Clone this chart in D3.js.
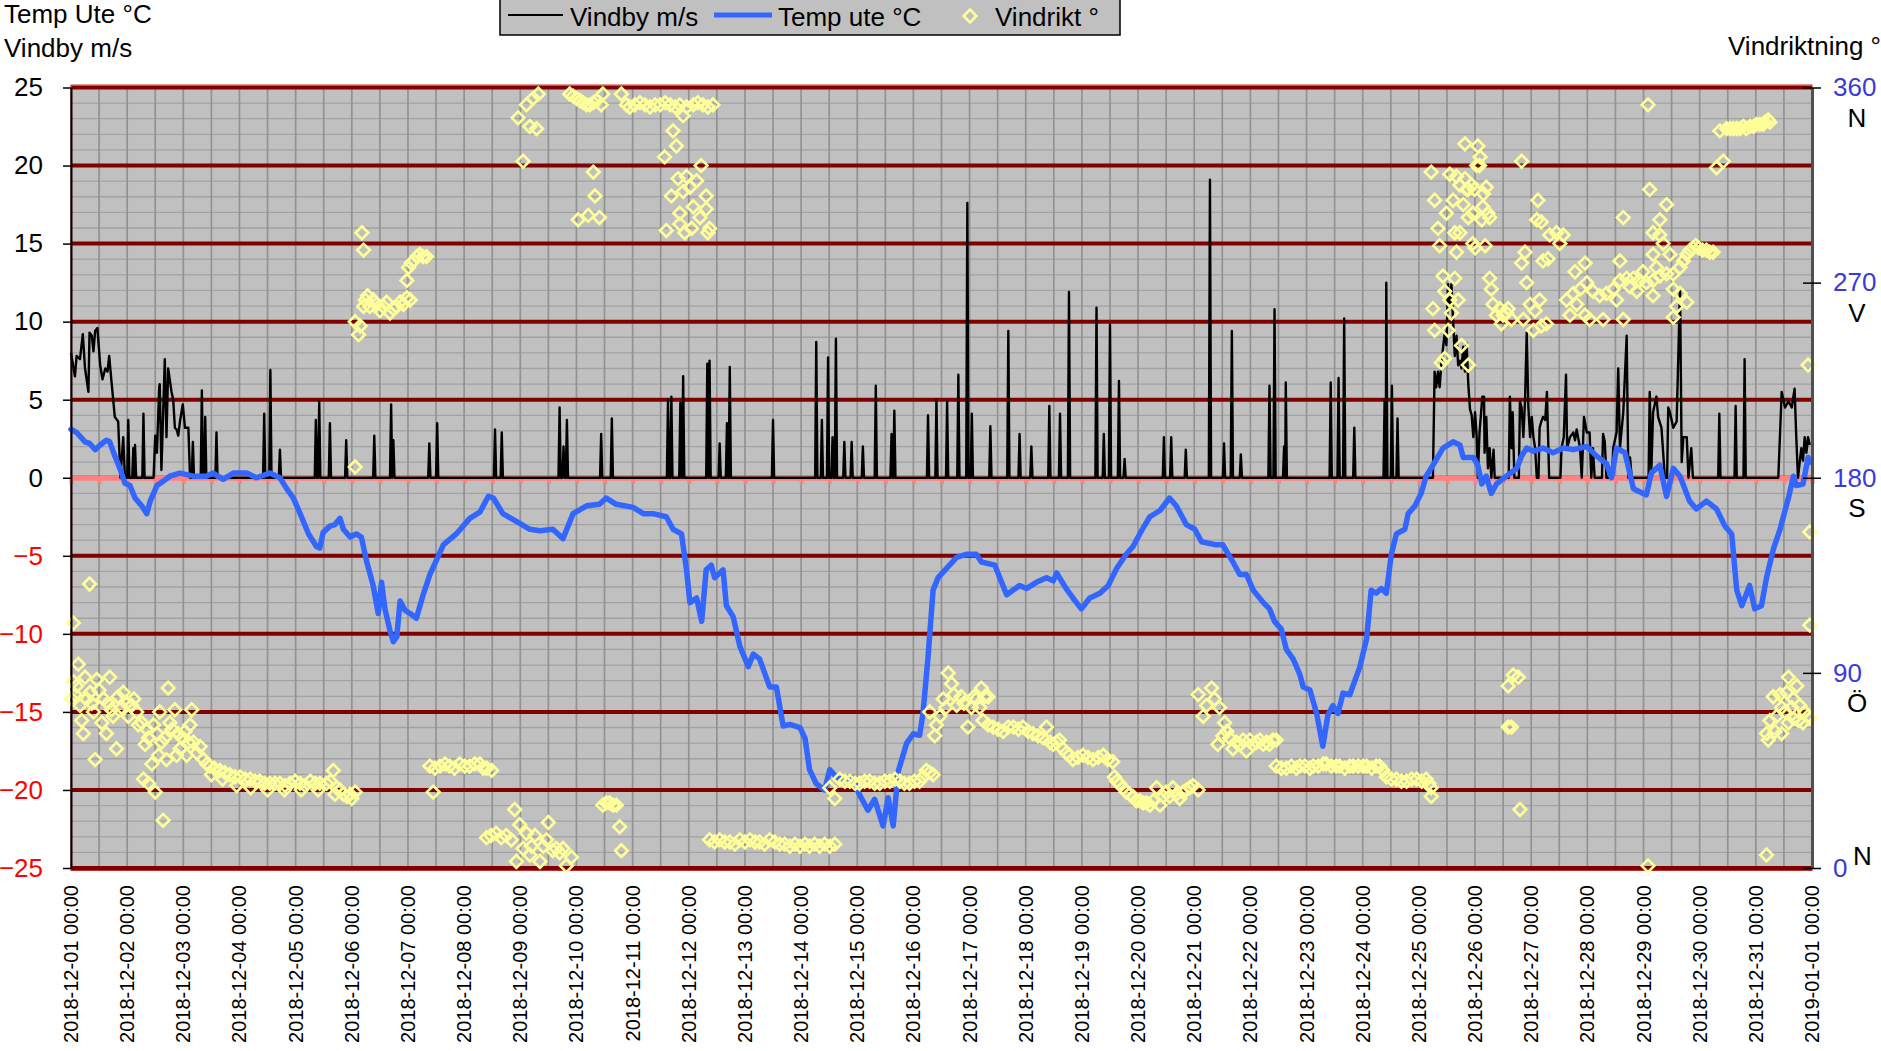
<!DOCTYPE html>
<html>
<head>
<meta charset="utf-8">
<script src="https://cdn.jsdelivr.net/npm/d3@7"></script>
<style>
  body { margin: 0; background: #fff; overflow: hidden; }
  svg text { font-family: "Liberation Sans", Arial, sans-serif; }
</style>
</head>
<body>
<script>
// values, x in days after 2018-12-01 00:00
const tempData = [
  [0.00,3.1],[0.10,2.9],[0.25,2.3],[0.33,2.2],[0.43,1.8],[0.52,2.1],[0.63,2.4],[0.69,2.3],[0.78,1.4],[0.87,0.6],
  [0.96,-0.35],[1.05,-0.5],[1.14,-1.3],[1.26,-1.8],[1.35,-2.3],[1.41,-1.5],[1.53,-0.5],[1.65,-0.2],[1.76,0.1],[1.94,0.3],
  [2.18,0.1],[2.41,0.1],[2.53,0.3],[2.71,-0.1],[2.89,0.3],[3.13,0.3],[3.30,0.0],[3.54,0.3],[3.72,0.0],[3.84,-0.7],
  [3.96,-1.3],[4.08,-2.3],[4.23,-3.6],[4.37,-4.4],[4.43,-4.5],[4.49,-3.5],[4.61,-3.1],[4.70,-3.0],[4.79,-2.6],[4.85,-3.3],
  [4.97,-3.8],[5.08,-3.6],[5.17,-3.8],[5.26,-5.3],[5.38,-6.9],[5.47,-8.7],[5.53,-6.7],[5.59,-8.4],[5.68,-9.8],[5.74,-10.5],
  [5.80,-10.2],[5.86,-7.9],[5.95,-8.5],[6.04,-8.7],[6.15,-9.0],[6.27,-7.5],[6.39,-6.2],[6.63,-4.3],[6.86,-3.6],[7.10,-2.6],
  [7.28,-2.2],[7.43,-1.2],[7.52,-1.3],[7.69,-2.3],[7.93,-2.8],[8.17,-3.3],[8.35,-3.4],[8.58,-3.3],[8.76,-3.9],[8.94,-2.3],
  [9.18,-1.8],[9.41,-1.7],[9.53,-1.3],[9.71,-1.7],[10.01,-1.9],[10.19,-2.3],[10.36,-2.3],[10.60,-2.5],[10.72,-3.3],[10.87,-3.6],
  [10.96,-5.9],[11.02,-8.0],[11.14,-7.7],[11.23,-9.2],[11.31,-5.9],[11.40,-5.6],[11.46,-6.4],[11.61,-5.9],[11.67,-8.2],[11.79,-8.9],
  [11.91,-10.8],[12.06,-12.1],[12.15,-11.3],[12.26,-11.6],[12.44,-13.4],[12.56,-13.4],[12.68,-15.9],[12.80,-15.8],[12.98,-16.0],[13.07,-16.7],
  [13.15,-18.7],[13.27,-19.6],[13.42,-20.0],[13.51,-18.7],[13.66,-19.3],[13.90,-19.2],[14.04,-20.3],[14.19,-21.3],[14.31,-20.6],[14.46,-22.3],
  [14.55,-20.5],[14.64,-22.3],[14.73,-18.8],[14.88,-17.0],[15.00,-16.4],[15.11,-16.5],[15.17,-15.1],[15.26,-11.5],[15.35,-7.2],[15.44,-6.4],
  [15.59,-5.8],[15.77,-5.1],[15.94,-4.9],[16.12,-4.9],[16.21,-5.4],[16.45,-5.6],[16.57,-6.7],[16.66,-7.5],[16.89,-6.9],[17.01,-7.1],
  [17.19,-6.7],[17.37,-6.4],[17.49,-6.6],[17.55,-6.1],[17.72,-7.1],[17.84,-7.7],[17.99,-8.4],[18.14,-7.7],[18.32,-7.4],[18.47,-6.9],
  [18.62,-5.8],[18.79,-4.9],[18.91,-4.4],[19.06,-3.4],[19.21,-2.5],[19.39,-2.1],[19.56,-1.3],[19.68,-1.8],[19.86,-3.0],[20.01,-3.3],
  [20.13,-4.1],[20.39,-4.3],[20.51,-4.3],[20.69,-5.4],[20.81,-6.2],[20.93,-6.2],[21.05,-7.2],[21.23,-8.0],[21.34,-8.4],[21.43,-9.2],
  [21.55,-9.7],[21.64,-11.0],[21.76,-11.6],[21.88,-12.6],[21.94,-13.4],[22.06,-13.6],[22.18,-15.1],[22.29,-17.2],[22.38,-15.2],[22.47,-14.6],
  [22.56,-15.1],[22.65,-13.8],[22.77,-13.9],[22.95,-12.1],[23.07,-10.3],[23.15,-7.2],[23.24,-7.4],[23.33,-7.1],[23.42,-7.4],[23.51,-4.9],
  [23.60,-3.6],[23.75,-3.3],[23.81,-2.3],[23.93,-1.8],[24.04,-1.0],[24.13,0.1],[24.25,0.8],[24.43,1.9],[24.61,2.3],[24.73,2.1],
  [24.79,1.3],[24.97,1.3],[25.05,0.8],[25.12,-0.4],[25.20,0.1],[25.29,-1.0],[25.38,-0.4],[25.56,0.1],[25.74,0.6],[25.83,1.4],
  [25.92,1.9],[26.04,1.7],[26.21,1.9],[26.39,1.6],[26.57,1.9],[26.75,1.8],[26.99,2.0],[27.16,1.4],[27.34,0.9],[27.43,0.0],
  [27.52,1.9],[27.67,1.6],[27.82,-0.7],[28.05,-1.1],[28.14,0.3],[28.29,0.8],[28.41,-1.2],[28.53,0.6],[28.65,0.1],[28.82,-1.5],
  [28.94,-2.0],[29.12,-1.5],[29.30,-2.0],[29.45,-3.1],[29.57,-3.6],[29.66,-7.2],[29.75,-8.2],[29.89,-6.9],[29.98,-8.4],[30.10,-8.2],
  [30.19,-6.4],[30.31,-4.6],[30.43,-3.3],[30.58,-1.3],[30.67,0.1],[30.72,-0.5],[30.84,-0.4],[30.93,1.3],[30.96,1.0]
];

// single gusts: [day, m/s]; the line is at 0 between them
const gustSpikes = [
  [1.02,3.7],[1.11,1.9],[1.14,2.1],[1.29,4.1],[2.17,2.3],[2.33,5.6],[2.39,3.9],[2.59,2.9],[3.44,4.1],[3.55,6.9],
  [3.72,1.8],[4.36,3.7],[4.42,4.9],[4.61,3.5],[4.90,2.4],[5.40,2.7],[5.70,4.7],[5.74,2.4],[6.38,2.2],[6.52,3.5],
  [7.55,3.1],[7.67,2.9],[8.70,4.5],[8.77,2.0],[8.83,3.7],[9.44,2.8],[9.63,3.8],[10.63,5.0],[10.69,5.2],[10.85,4.8],
  [10.90,6.5],[11.33,7.3],[11.37,7.5],[11.55,2.2],[11.68,3.5],[11.73,7.1],[12.50,3.7],[13.27,8.7],[13.37,3.7],[13.48,7.7],
  [13.56,2.6],[13.62,8.9],[13.77,2.3],[13.90,2.3],[14.10,2.0],[14.33,5.9],[14.61,2.8],[14.66,4.3],[15.26,4.0],[15.41,5.0],
  [15.60,4.9],[15.80,6.6],[15.96,17.6],[16.04,4.1],[16.37,3.3],[16.69,9.4],[16.89,2.8],[17.10,2.0],[17.42,4.6],[17.61,4.1],
  [17.77,11.9],[18.26,10.9],[18.39,2.8],[18.50,9.8],[18.66,6.2],[18.76,1.2],[19.46,2.6],[19.59,2.6],[19.85,1.8],[20.28,19.1],
  [20.53,2.2],[20.67,9.4],[20.83,1.5],[21.34,5.9],[21.43,10.8],[21.60,2.0],[21.63,6.1],[22.43,6.1],[22.57,6.4],[22.67,10.2],
  [22.85,3.2],[23.39,5.0],[23.42,12.5],[23.52,5.9],[23.62,3.8],[29.35,4.1],[29.64,4.6],[29.80,7.6]
];

// windy stretches: [day, m/s]
const gustRuns = [
  [[0.00,8.0],[0.07,6.5],[0.10,7.8],[0.16,7.6],[0.21,9.2],[0.25,7.0],[0.31,5.5],[0.33,9.3],[0.37,9.1],[0.40,8.1],
   [0.43,9.4],[0.47,9.6],[0.52,7.2],[0.56,6.3],[0.61,7.0],[0.65,6.8],[0.68,7.8],[0.72,6.2],[0.78,3.9],[0.84,3.6],
   [0.88,0],[0.93,2.6],[0.96,0]],
  [[1.47,0],[1.50,2.7],[1.53,1.6],[1.57,5.8],[1.58,6.0],[1.61,0.5],[1.67,7.6],[1.70,2.6],[1.73,7.0],[1.79,5.5],
   [1.82,5.0],[1.85,3.2],[1.88,3.1],[1.91,2.7],[1.94,3.6],[1.99,4.7],[2.03,3.2],[2.09,3.2],[2.12,0]],
  [[24.25,0],[24.28,6.8],[24.31,5.8],[24.34,6.8],[24.37,5.8],[24.40,7.3],[24.46,9.3],[24.49,8.5],[24.52,12.4],[24.55,11.1],
   [24.58,12.4],[24.61,10.0],[24.64,7.8],[24.67,9.1],[24.70,7.2],[24.73,7.5],[24.76,7.0],[24.79,8.4],[24.82,6.8],[24.85,8.6],
   [24.88,6.0],[24.91,4.4],[24.94,4.0],[24.97,2.6],[25.00,4.2],[25.03,2.6],[25.05,0],[25.08,2.9],[25.13,5.2],[25.16,5.2],
   [25.17,1.6],[25.20,3.9],[25.23,0.6],[25.26,1.9],[25.29,0],[25.33,1.8],[25.35,0]],
  [[25.60,0],[25.62,5.2],[25.65,1.9],[25.67,4.2],[25.70,0],[25.78,0],[25.80,4.9],[25.83,4.5],[25.86,2.6],[25.89,4.9],
   [25.92,9.3],[25.95,4.5],[25.98,2.6],[26.01,3.9],[26.04,2.6],[26.07,1.9],[26.10,0],[26.13,0],[26.15,3.2],[26.18,3.6],
   [26.21,3.9],[26.25,3.7],[26.28,5.5],[26.32,0]],
  [[26.52,0],[26.54,1.9],[26.58,2.6],[26.62,6.6],[26.64,1.9],[26.69,2.6],[26.75,2.9],[26.78,2.4],[26.81,3.1],[26.87,1.9],
   [26.90,0],[26.94,3.9],[26.99,2.9],[27.04,2.9],[27.07,0],[27.10,1.9],[27.13,0]],
  [[27.26,0],[27.28,2.8],[27.31,2.3],[27.34,0],[27.44,0],[27.46,1.9],[27.52,2.9],[27.55,7.0],[27.58,1.9],[27.64,4.2],
   [27.70,9.1],[27.73,0],[27.76,1.3],[27.79,0]],
  [[28.09,0],[28.11,5.5],[28.14,0.5],[28.17,4.2],[28.23,5.2],[28.26,3.9],[28.32,3.2],[28.38,0],[28.42,0],[28.44,4.5],
   [28.47,4.2],[28.53,3.2],[28.59,3.6],[28.65,12.2],[28.68,1.0],[28.71,2.6],[28.77,2.6],[28.80,0],[28.85,1.9],[28.88,0]],
  [[30.40,0],[30.46,5.5],[30.52,4.5],[30.58,4.9],[30.64,4.5],[30.69,5.7],[30.72,2.6],[30.75,0],[30.81,1.9],[30.84,1.1],
   [30.87,2.6],[30.90,1.6],[30.93,2.6],[30.96,2.1]]
];

// wind direction: [day, degrees]
const windDir = [
  [0.01,78],[0.04,86],[0.04,113],[0.07,80],[0.10,84],[0.13,94],[0.16,75],[0.19,68],[0.22,62],[0.25,88],[0.28,78],[0.33,131],
  [0.34,81],[0.37,76],[0.40,72],[0.43,50],[0.46,87],[0.50,82],[0.55,67],[0.58,78],[0.63,62],[0.66,76],[0.69,88],[0.72,73],
  [0.75,70],[0.81,55],[0.84,79],[0.90,74],[0.93,81],[0.99,76],[1.02,70],[1.08,75],[1.12,78],[1.17,72],[1.20,66],[1.26,67],
  [1.29,41],[1.32,57],[1.35,64],[1.38,60],[1.38,39],[1.44,48],[1.47,66],[1.50,35],[1.53,62],[1.56,52],[1.58,72],[1.61,58],
  [1.64,22],[1.67,60],[1.70,50],[1.73,83],[1.76,67],[1.80,64],[1.85,73],[1.88,52],[1.91,62],[1.94,55],[1.98,60],[2.03,63],
  [2.06,52],[2.09,58],[2.12,66],[2.15,73],[2.18,58],[2.24,53],[2.30,56],
  [2.36,50],[2.42,48],[2.47,47],[2.50,43],[2.55,46],[2.65,45],[2.70,41],[2.74,44],[2.83,43],[2.92,42],[2.95,38],[3.01,42],
  [3.10,41],[3.19,41],[3.20,37],[3.28,40],[3.36,40],[3.45,39],[3.50,36],[3.54,39],[3.63,39],[3.72,39],[3.80,36],[3.81,38],
  [3.90,39],[3.99,40],[4.08,39],[4.10,36],[4.17,38],[4.26,40],[4.35,39],[4.40,36],[4.43,39],[4.55,39],[4.62,40],[4.67,45],
  [4.70,34],[4.73,37],[4.79,36],[4.85,34],[4.91,33],[4.97,34],[5.00,32],[5.06,35],
  [5.06,185],
  [5.06,252],[5.12,246],[5.15,250],[5.18,293],[5.21,285],[5.21,259],[5.24,262],[5.28,264],[5.32,259],[5.38,262],[5.44,260],
  [5.50,257],[5.56,259],[5.62,261],[5.68,256],[5.74,258],[5.80,259],[5.86,261],[5.92,260],[5.98,263],[6.04,262],[5.98,271],
  [6.01,277],[6.06,279],[6.10,280],[6.16,282],[6.21,283],[6.27,282],[6.33,282],
  [6.39,47],[6.45,35],[6.48,46],[6.57,47],[6.66,48],[6.74,47],[6.83,46],[6.92,48],[7.01,47],[7.10,47],[7.19,48],[7.28,48],
  [7.34,46],[7.40,46],[7.49,45],
  [7.40,14],[7.48,15],[7.57,16],[7.66,14],[7.75,15],[7.84,13],[7.90,27],[7.93,3],[7.99,20],[8.05,9],[8.11,16],[8.17,6],
  [8.20,10],[8.26,15],[8.35,3],[8.41,10],[8.47,13],[8.50,21],[8.58,8],[8.64,9],[8.70,7],[8.76,9],[8.82,1],[8.91,5],
  [7.96,346],[8.05,326],[8.11,352],[8.17,342],[8.23,355],[8.29,341],[8.32,357],
  [8.88,357],[8.94,356],[9.00,355],[9.06,354],[9.12,353],[9.18,352],[9.24,352],[9.30,353],[9.36,354],[9.44,352],[9.47,357],
  [9.30,321],[9.33,310],[9.03,299],[9.21,301],[9.41,300],
  [9.47,29],[9.53,30],[9.59,30],[9.65,29],[9.71,29],[9.77,19],[9.80,8],
  [9.80,357],[9.89,352],[9.95,351],[10.04,352],[10.13,353],[10.22,352],[10.31,351],[10.40,352],[10.49,352],[10.58,353],
  [10.67,352],[10.76,351],[10.84,352],[10.90,347],[10.96,351],[11.08,352],[11.16,353],[11.25,352],[11.34,351],[11.43,352],
  [10.72,340],[10.78,333],[10.57,328],
  [10.60,294],[10.69,310],[10.81,318],[10.84,302],[10.84,297],[10.90,312],[10.93,293],[10.96,319],[11.02,314],[11.05,295],
  [11.08,305],[11.14,317],[11.20,300],[11.22,324],[11.31,310],[11.31,304],[11.34,293],[11.37,295],
  [11.37,13],[11.46,12],[11.55,13],[11.64,12],[11.73,12],[11.82,11],[11.91,13],[12.00,12],[12.09,13],[12.18,12],[12.26,12],
  [12.35,11],[12.44,13],[12.53,12],[12.62,11],[12.71,11],[12.80,10],[12.89,11],[12.98,10],[13.07,11],[13.15,10],[13.24,11],
  [13.33,10],[13.42,11],[13.51,10],[13.60,11],
  [13.51,37],[13.60,32],[13.69,41],[13.78,40],[13.87,40],[13.96,39],[14.04,39],[14.13,40],[14.22,40],[14.31,39],[14.40,39],
  [14.49,40],[14.58,40],[14.67,41],[14.76,40],[14.84,39],[14.93,39],[15.02,40],[15.11,40],[15.17,42],[15.23,45],[15.29,44],
  [15.35,43],
  [15.29,72],[15.38,61],[15.41,66],[15.47,70],[15.53,78],[15.58,74],[15.62,90],[15.68,85],[15.72,80],[15.77,75],[15.85,79],
  [15.90,76],[15.97,65],[16.03,74],[16.08,79],[16.12,78],[16.18,74],[16.21,83],[16.27,79],[16.33,79],
  [16.24,68],[16.33,66],[16.42,65],[16.51,64],[16.60,63],[16.69,65],[16.78,65],[16.87,64],[16.95,65],[17.04,63],[17.13,62],
  [17.22,61],[17.31,60],[17.37,65],[17.43,58],[17.49,57],[17.55,58],[17.60,59],[17.66,55],[17.72,53],[17.78,52],[17.84,50],
  [17.93,51],[18.02,52],[18.11,51],[18.20,50],[18.29,51],[18.38,52],[18.46,50],[18.55,49],[18.58,42],[18.62,40],[18.67,39],
  [18.73,37],[18.79,35],[18.85,34],[18.91,33],[18.97,31],[19.03,31],[19.09,30],[19.15,30],
  [19.21,29],[19.27,31],[19.33,37],[19.39,29],[19.45,33],[19.50,35],[19.56,33],[19.62,37],[19.68,34],[19.74,32],[19.80,35],
  [19.86,36],[19.92,37],[19.98,38],[20.07,36],
  [20.07,80],[20.16,70],[20.22,75],[20.31,83],[20.36,78],[20.42,57],[20.45,74],[20.51,61],[20.54,67],[20.58,63],[20.63,60],
  [20.69,55],[20.75,58],[20.81,57],[20.87,59],[20.93,54],[20.99,59],[21.05,57],[21.11,58],[21.17,59],[21.23,57],[21.29,58],
  [21.34,57],[21.40,59],[21.46,59],
  [21.46,47],[21.55,46],[21.64,46],[21.73,47],[21.82,46],[21.88,47],[21.97,47],[22.06,46],[22.12,47],[22.21,47],[22.30,48],
  [22.35,48],[22.44,47],[22.53,47],[22.59,47],[22.68,46],[22.77,47],[22.83,47],[22.92,47],[23.01,47],[23.07,47],[23.16,46],
  [23.24,47],[23.30,47],[23.36,45],[23.42,42],[23.51,41],[23.60,41],[23.69,40],[23.78,40],[23.87,41],[23.96,41],[24.05,40],
  [24.13,41],[24.18,39],[24.22,37],[24.22,33],
  [24.22,321],[24.25,258],[24.28,308],[24.28,248],[24.34,295],[24.37,287],[24.40,233],[24.43,273],[24.46,266],[24.46,235],
  [24.49,302],[24.52,248],[24.55,320],[24.55,262],[24.58,256],[24.61,308],[24.64,293],[24.64,272],[24.67,319],[24.67,284],
  [24.70,262],[24.73,315],[24.73,293],[24.76,241],[24.79,306],[24.82,334],[24.82,318],[24.85,313],[24.88,313],[24.88,300],
  [24.88,232],[24.94,315],[24.96,302],[24.96,288],[24.99,313],[25.00,286],[25.03,324],[25.05,333],[25.08,324],[25.09,328],
  [25.12,299],[25.14,305],[25.15,311],[25.18,287],[25.20,314],[25.23,302],[25.26,300],[25.26,272],[25.29,267],[25.32,260],
  [25.38,255],[25.44,258],[25.47,251],[25.50,255],[25.56,256],[25.59,258],[25.65,253],
  [25.59,84],[25.59,65],[25.65,65],[25.68,89],[25.77,88],[25.80,27],
  [25.83,326],[25.83,279],[25.86,253],[25.89,284],[25.92,270],[25.98,260],[26.04,248],[26.07,257],[26.10,299],[26.12,308],
  [26.15,262],[26.18,298],[26.18,250],[26.21,280],[26.27,251],[26.30,281],[26.33,292],[26.45,293],[26.51,288],[26.57,292],
  [26.63,262],[26.69,255],[26.75,265],[26.78,275],[26.81,260],[26.87,267],[26.96,255],[26.96,279],[26.99,270],[27.04,253],
  [27.10,266],[27.22,264],[27.28,253],[27.34,265],[27.46,267],[27.52,262],[27.58,271],[27.58,280],[27.64,253],[27.64,300],
  [27.70,272],[27.76,268],[27.82,272],[27.88,266],[27.93,271],[27.99,275],[28.05,270],[28.08,352],[28.11,313],[28.17,271],
  [28.17,293],[28.17,283],[28.17,264],[28.23,277],[28.29,273],[28.29,299],[28.29,292],[28.35,288],[28.41,274],[28.41,306],
  [28.47,283],[28.53,274],[28.53,267],[28.53,254],[28.59,259],[28.65,277],[28.65,265],[28.71,280],[28.77,283],[28.77,261],
  [28.83,285],[28.88,286],[28.93,287],[28.98,286],[29.05,285],[29.12,285],[29.18,284],[29.24,284],
  [29.30,323],[29.36,340],[29.42,326],[29.48,341],[29.54,341],[29.60,341],[29.66,341],[29.72,341],[29.78,342],[29.83,341],
  [29.90,342],[29.96,342],[30.01,343],[30.07,343],[30.13,343],[30.16,344],[30.22,345],[30.25,344],
  [28.08,1],[30.19,6],[30.93,232],[30.96,155],[30.96,112],
  [30.19,62],[30.22,59],[30.25,68],[30.31,79],[30.34,63],[30.37,70],[30.43,80],[30.46,62],[30.46,74],[30.52,72],[30.55,81],
  [30.58,88],[30.58,67],[30.64,74],[30.67,78],[30.67,69],[30.73,84],[30.76,68],[30.78,75],[30.84,67],[30.87,72],[30.93,70],
  [30.96,69]
];

const leftTicks = [-25, -20, -15, -10, -5, 0, 5, 10, 15, 20, 25];
const dirTicks = [0, 90, 180, 270, 360];
const dirLetters = ["N", "Ö", "S", "V", "N"];
const legendItems = ["Vindby m/s", "Temp ute °C", "Vindrikt °"];

const W = 1881, H = 1051;
const X0 = 71, X1 = 1812, Y0 = 87.5, Y1 = 868;

const t0 = new Date(2018, 11, 1);
const t1 = new Date(2019, 0, 1);
const toDate = (d) => new Date(t0.getTime() + d * 864e5);

const x = d3.scaleTime().domain([t0, t1]).range([X0, X1]);
const y = d3.scaleLinear().domain([-25, 25]).range([Y1, Y0]);
const yDir = d3.scaleLinear().domain([0, 360]).range([Y1, Y0]);

const svg = d3
  .select("body")
  .append("svg")
  .attr("width", W)
  .attr("height", H);

// plot area
svg
  .append("rect")
  .attr("x", X0)
  .attr("y", Y0)
  .attr("width", X1 - X0)
  .attr("height", Y1 - Y0)
  .attr("fill", "#c0c0c0");

// 1 degree gridlines
svg
  .append("g")
  .selectAll("line")
  .data(y.ticks(50))
  .join("line")
  .attr("x1", X0)
  .attr("x2", X1)
  .attr("y1", (d) => y(d))
  .attr("y2", (d) => y(d))
  .attr("stroke", "#a2a2a2")
  .attr("stroke-width", 1.3);

// 12 hour gridlines
svg
  .append("g")
  .selectAll("line")
  .data(x.ticks(d3.timeHour.every(12)))
  .join("line")
  .attr("x1", (d) => x(d))
  .attr("x2", (d) => x(d))
  .attr("y1", Y0)
  .attr("y2", Y1)
  .attr("stroke", "#929292")
  .attr("stroke-width", 1.7);

// major gridlines
svg
  .append("g")
  .selectAll("line")
  .data(leftTicks)
  .join("line")
  .attr("x1", X0)
  .attr("x2", X1)
  .attr("y1", (d) => y(d))
  .attr("y2", (d) => y(d))
  .attr("stroke", "#800000")
  .attr("stroke-width", 4);

// plot border
svg
  .append("rect")
  .attr("x", X0)
  .attr("y", Y0 - 2.5)
  .attr("width", X1 - X0)
  .attr("height", Y1 - Y0 + 5)
  .attr("fill", "none")
  .attr("stroke", "#c03030")
  .attr("stroke-width", 1);

// category axis crossing at 0
const zeroAxis = svg
  .append("g")
  .attr("transform", `translate(0,${y(0)})`)
  .call(
    d3.axisBottom(x).ticks(d3.timeHour.every(12)).tickSize(6).tickSizeOuter(0).tickFormat("")
  );
zeroAxis.select(".domain").attr("stroke", "#ff8080").attr("stroke-width", 5);
zeroAxis.selectAll(".tick line").attr("stroke", "#ff8080").attr("stroke-width", 4);

// gusts
const gustPoints = gustRuns
  .flat()
  .concat(gustSpikes.flatMap(([d, v]) => [[d - 0.02, 0], [d, v], [d + 0.02, 0]]))
  .sort((a, b) => a[0] - b[0]);

const line = d3
  .line()
  .x((d) => x(toDate(d[0])))
  .y((d) => y(d[1]));

svg
  .append("path")
  .datum(gustPoints)
  .attr("fill", "none")
  .attr("stroke", "#000")
  .attr("stroke-width", 2.4)
  .attr("stroke-linejoin", "round")
  .attr("d", line);

// temperature
svg
  .append("path")
  .datum(tempData)
  .attr("fill", "none")
  .attr("stroke", "#3366ff")
  .attr("stroke-width", 5.5)
  .attr("stroke-linejoin", "round")
  .attr("stroke-linecap", "round")
  .attr("d", line);

// wind direction
const diamond = d3.symbol().type(d3.symbolSquare).size(80);

svg
  .append("g")
  .selectAll("path")
  .data(windDir)
  .join("path")
  .attr("d", diamond)
  .attr("transform", (d) => `translate(${x(toDate(d[0]))},${yDir(d[1])}) rotate(45)`)
  .attr("fill", "none")
  .attr("stroke", "#ffff99")
  .attr("stroke-width", 2.6);

// left axis
const leftAxis = svg
  .append("g")
  .attr("transform", `translate(${X0},0)`)
  .call(d3.axisLeft(y).tickValues(leftTicks).tickSize(8).tickSizeOuter(0).tickPadding(20));
leftAxis.select(".domain").attr("stroke", "#000").attr("stroke-width", 2);
leftAxis.selectAll(".tick line").attr("stroke", "#000").attr("stroke-width", 1.5);
leftAxis
  .selectAll(".tick text")
  .attr("font-size", 26)
  .attr("font-family", "Liberation Sans, Arial, sans-serif")
  .attr("fill", (d) => (d < 0 ? "#ff0000" : "#000"));

// right axis
const rightAxis = svg
  .append("g")
  .attr("transform", `translate(${X1},0)`)
  .call(d3.axisRight(yDir).tickValues(dirTicks).tickSize(9).tickSizeOuter(0).tickPadding(12));
rightAxis.select(".domain").attr("stroke", "#505050").attr("stroke-width", 3);
rightAxis.selectAll(".tick line").attr("x1", -9).attr("stroke", "#000").attr("stroke-width", 1.5);
rightAxis
  .selectAll(".tick text")
  .attr("font-size", 26)
  .attr("font-family", "Liberation Sans, Arial, sans-serif")
  .attr("fill", "#3a3ad8");

svg
  .append("g")
  .selectAll("text")
  .data(dirTicks)
  .join("text")
  .attr("x", (d) => (d === 0 ? 1853 : 1857))
  .attr("y", (d) => (d === 0 ? yDir(d) - 3 : yDir(d) + 39))
  .attr("text-anchor", (d) => (d === 0 ? "start" : "middle"))
  .attr("font-size", 26)
  .attr("fill", "#000")
  .text((d, i) => dirLetters[i]);

// date labels
svg
  .append("g")
  .selectAll("text")
  .data(x.ticks(d3.timeDay.every(1)))
  .join("text")
  .attr("transform", (d) => `translate(${x(d)},885) rotate(-90)`)
  .attr("text-anchor", "end")
  .attr("dy", "0.35em")
  .attr("font-size", 20)
  .attr("fill", "#000")
  .text(d3.timeFormat("%Y-%m-%d %H:%M"));

// axis titles
svg.append("text").attr("x", 4).attr("y", 23).attr("font-size", 26).text("Temp Ute °C");
svg.append("text").attr("x", 4).attr("y", 57).attr("font-size", 26).text("Vindby m/s");
svg.append("text").attr("x", 1728).attr("y", 55).attr("font-size", 26).text("Vindriktning °");

// legend
const legend = svg.append("g");
legend
  .append("rect")
  .attr("x", 500)
  .attr("y", -2)
  .attr("width", 620)
  .attr("height", 37)
  .attr("fill", "#c0c0c0")
  .attr("stroke", "#000")
  .attr("stroke-width", 1.5);

legend.append("line").attr("x1", 508).attr("x2", 563).attr("y1", 15).attr("y2", 15)
  .attr("stroke", "#000").attr("stroke-width", 2);
legend.append("line").attr("x1", 714).attr("x2", 772).attr("y1", 15).attr("y2", 15)
  .attr("stroke", "#3366ff").attr("stroke-width", 5);
legend.append("path").attr("d", diamond).attr("transform", "translate(970,16) rotate(45)")
  .attr("fill", "none").attr("stroke", "#ffff99").attr("stroke-width", 2.6);

legend
  .selectAll("text")
  .data(legendItems)
  .join("text")
  .attr("x", (d, i) => [570, 778, 995][i])
  .attr("y", 26)
  .attr("font-size", 26)
  .text((d) => d);
</script>
</body>
</html>
